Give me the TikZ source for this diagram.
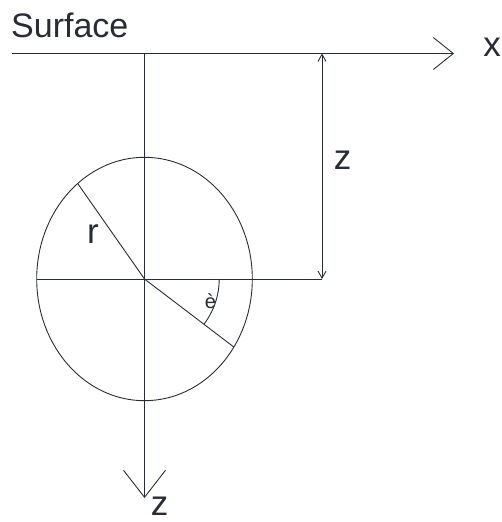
\documentclass[tikz,border=0pt]{standalone}
\usepackage{fontspec}
\setmainfont{Liberation Sans}
\usetikzlibrary{arrows.meta,calc}
\definecolor{ink}{RGB}{40,44,52}
\begin{document}
\begin{tikzpicture}[x=1pt,y=-1pt,
  line/.style={draw=ink,line width=0.9pt},
  bigtip/.style={-{Straight Barb[length=20pt,width=32pt,line width=0.9pt]}},
  ztip/.style={-{Straight Barb[length=27pt,width=42pt,line width=0.9pt]}},
  dimtip/.style={{Straight Barb[length=7pt,width=8pt,line width=0.9pt]}-{Straight Barb[length=7pt,width=8pt,line width=0.9pt]}},
  lab/.style={text=ink,inner sep=0pt,font=\fontsize{35}{35}\selectfont},
  small/.style={text=ink,inner sep=0pt,font=\fontsize{20}{20}\selectfont}]
\useasboundingbox (0,0) rectangle (501,522);
% coordinates
\coordinate (sl) at (12,53.5);
\coordinate (sr) at (454,53.5);
\coordinate (c) at (144.5,279);
\coordinate (ztop) at (144.5,53.5);
\coordinate (zbot) at (144.5,498);
\coordinate (hl) at (36.7,279);
\coordinate (hr) at (322,279);
\coordinate (dtop) at (322,53.5);
\coordinate (rend) at ($(c)+(128.3:107.8pt and 121.7pt)$);
\coordinate (tend) at ($(c)+(-34:107.8pt and 121.7pt)$);
\coordinate (arcs) at ($(c)+(74.7pt,0pt)$);
% axes
\draw[line,bigtip] (sl) -- (sr);
\draw[line,ztip] (ztop) -- (zbot);
% ellipse
\draw[line] (c) ellipse [x radius=107.8pt, y radius=121.7pt];
\draw[line] (hl) -- (hr);
\draw[line] (c) -- (rend);
\draw[line] (c) -- (tend);
\draw[line] (arcs) arc [start angle=0, end angle=-37.35, radius=74.7pt];
% dimension
\draw[line,dimtip] (dtop) -- (hr);
% labels
\node[lab,anchor=base west,font=\fontsize{34}{34}\selectfont] (surf) at (11,37) {Surface};
\node[lab,anchor=base] (xl) at (492,56.5) {x};
\node[lab,anchor=base] (zl) at (342.5,169) {z};
\node[lab,anchor=base] (rl) at (93,243) {r};
\node[lab,anchor=base] (zb) at (159.5,515.5) {z};
\node[small,anchor=base] (th) at (210.5,308) {è};
\end{tikzpicture}
\end{document}
